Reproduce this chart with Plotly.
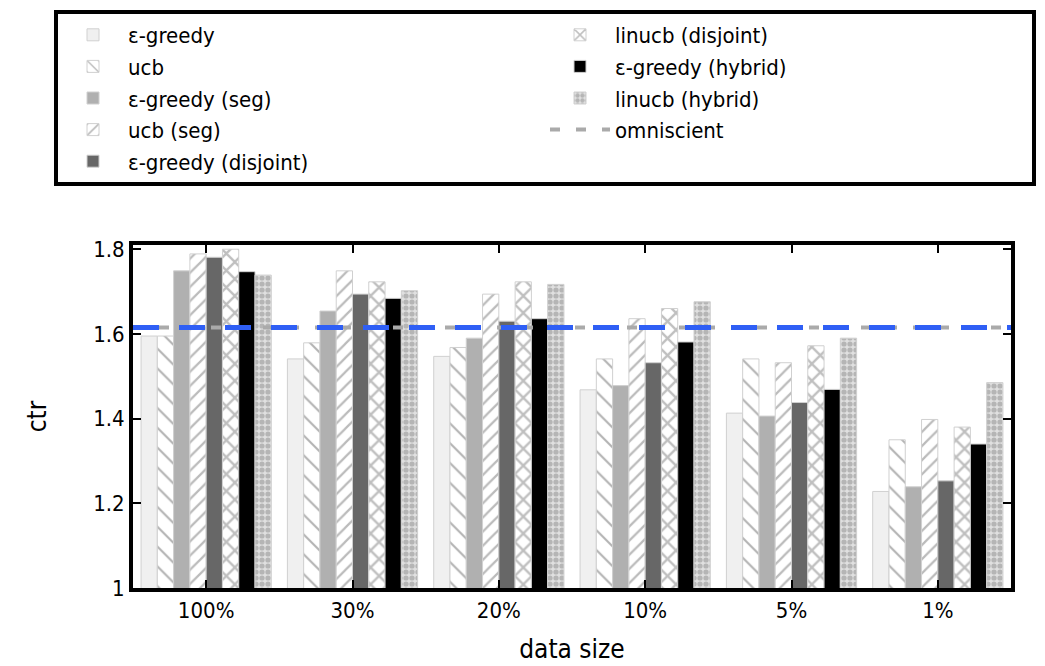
import plotly.graph_objects as go

categories = ["100%", "30%", "20%", "10%", "5%", "1%"]
series_names = ["ε-greedy", "ucb", "ε-greedy (seg)", "ucb (seg)",
                "ε-greedy (disjoint)", "linucb (disjoint)",
                "ε-greedy (hybrid)", "linucb (hybrid)"]
eps_greedy = [1.595, 1.541, 1.547, 1.468, 1.413, 1.228]
ucb = [1.595, 1.579, 1.568, 1.541, 1.541, 1.350]
eps_greedy_seg = [1.749, 1.654, 1.590, 1.478, 1.406, 1.239]
ucb_seg = [1.789, 1.749, 1.694, 1.636, 1.532, 1.398]
eps_greedy_disjoint = [1.781, 1.694, 1.630, 1.532, 1.438, 1.253]
linucb_disjoint = [1.800, 1.723, 1.723, 1.660, 1.572, 1.380]
eps_greedy_hybrid = [1.747, 1.684, 1.636, 1.581, 1.469, 1.340]
linucb_hybrid = [1.739, 1.702, 1.717, 1.676, 1.590, 1.485]
omniscient = 1.615

values = [eps_greedy, ucb, eps_greedy_seg, ucb_seg, eps_greedy_disjoint,
          linucb_disjoint, eps_greedy_hybrid, linucb_hybrid]

styles = [
    dict(color="#f0f0f0", pattern=dict(shape="")),
    dict(color="white", pattern=dict(shape="\\", fgcolor="#666666", bgcolor="white", size=14, solidity=0.15)),
    dict(color="#b0b0b0", pattern=dict(shape="")),
    dict(color="white", pattern=dict(shape="/", fgcolor="#777777", bgcolor="white", size=10, solidity=0.22)),
    dict(color="#676767", pattern=dict(shape="")),
    dict(color="white", pattern=dict(shape="x", fgcolor="#808080", bgcolor="white", size=12, solidity=0.35)),
    dict(color="black", pattern=dict(shape="")),
    dict(color="#e0e0e0", pattern=dict(shape=".", fgcolor="#8a8a8a", bgcolor="#e0e0e0", size=6, solidity=0.6)),
]
# legend order arranged row by row (two columns)
ranks = [1, 3, 5, 7, 9, 2, 4, 6]

font_family = "Liberation Sans Narrow, DejaVu Sans Condensed, Arial Narrow, sans-serif"

fig = go.Figure()
for name, vals, st, rk in zip(series_names, values, styles, ranks):
    fig.add_trace(go.Bar(
        x=categories, y=vals, name=name, legendrank=rk,
        marker=dict(color=st["color"], pattern=st["pattern"],
                    line=dict(color="#d0d0d0", width=1)),
    ))

fig.add_trace(go.Scatter(
    x=[0, 1], y=[omniscient, omniscient], xaxis="x2", mode="lines",
    name="omniscient", legendrank=8,
    line=dict(color="#aaaaaa", width=4, dash="10px,16px"),
))
fig.add_trace(go.Scatter(
    x=[0, 1], y=[omniscient, omniscient], xaxis="x2", mode="lines",
    showlegend=False,
    line=dict(color="#2f5ff5", width=5, dash="26px,20px"),
))

plot_w = 1045 - 125 - 42
plot_h = 666 - 237 - 86

fig.update_layout(
    width=1045, height=666,
    paper_bgcolor="white", plot_bgcolor="white",
    font=dict(family=font_family, size=22, color="black"),
    barmode="group", bargap=0.11, bargroupgap=0,
    margin=dict(l=125, r=42, t=237, b=86, autoexpand=False),
    xaxis=dict(
        range=[-0.5, 5.5], showline=True, linewidth=4, linecolor="black",
        mirror="ticks", ticks="inside", ticklen=8, tickwidth=2,
        tickcolor="black", showgrid=False,
        title=dict(text="data size", standoff=18),
    ),
    xaxis2=dict(range=[0, 1], overlaying="x", visible=False),
    yaxis=dict(
        range=[1, 1.81], tickvals=[1, 1.2, 1.4, 1.6, 1.8],
        ticktext=["1", "1.2", "1.4", "1.6", "1.8"],
        showline=True, linewidth=4, linecolor="black", mirror="ticks",
        ticks="inside", ticklen=8, tickwidth=2, tickcolor="black",
        showgrid=False, zeroline=False,
        title=dict(text="ctr", standoff=40),
    ),
    legend=dict(
        orientation="h",
        x=(46 - 125) / plot_w, xanchor="left",
        y=1 + (237 - 2) / plot_h, yanchor="top",
        entrywidth=412, entrywidthmode="pixels",
        bordercolor="black", borderwidth=4, bgcolor="white",
        itemwidth=60, font=dict(size=22),
        traceorder="normal",
    ),
)

fig.write_html("out.html")
